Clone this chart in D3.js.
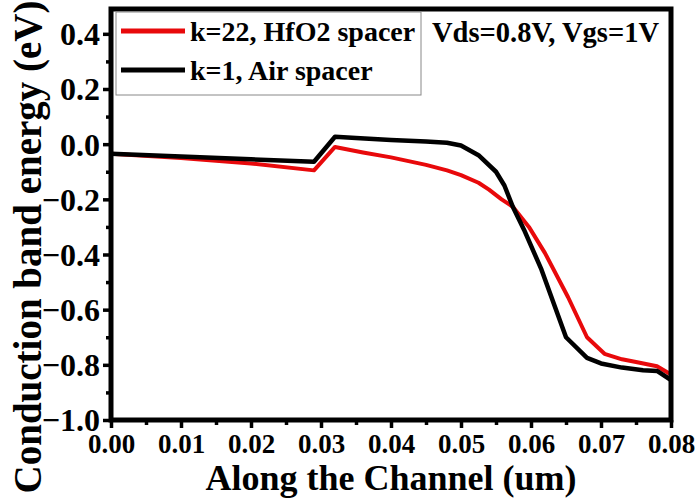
<!DOCTYPE html>
<html>
<head>
<meta charset="utf-8">
<script src="https://cdn.jsdelivr.net/npm/d3@7"></script>
<style>
  html, body { margin: 0; padding: 0; background: #fff; }
</style>
</head>
<body>
<svg id="chart" width="699" height="501" font-family="Liberation Serif" font-weight="bold"></svg>
<script>
// ---- data ----
const xAir = [0.000, 0.010, 0.020, 0.029, 0.032, 0.035, 0.040, 0.045, 0.048, 0.050, 0.0525, 0.055, 0.0562, 0.0574, 0.059, 0.0615, 0.065, 0.068, 0.070, 0.073, 0.076, 0.078, 0.080];
const yAir = [-0.035, -0.045, -0.055, -0.064, 0.027, 0.022, 0.015, 0.010, 0.005, -0.005, -0.040, -0.100, -0.150, -0.227, -0.310, -0.455, -0.700, -0.775, -0.795, -0.810, -0.820, -0.822, -0.855];
const xHfO2 = [0.000, 0.010, 0.020, 0.029, 0.032, 0.036, 0.040, 0.045, 0.048, 0.050, 0.0525, 0.054, 0.0558, 0.0574, 0.0597, 0.062, 0.0653, 0.068, 0.0705, 0.073, 0.075, 0.078, 0.080];
const yHfO2 = [-0.035, -0.050, -0.070, -0.095, -0.010, -0.030, -0.048, -0.075, -0.095, -0.112, -0.140, -0.165, -0.200, -0.227, -0.300, -0.395, -0.555, -0.700, -0.760, -0.780, -0.790, -0.805, -0.835];
const seriesNames = ["k=22, HfO2 spacer", "k=1, Air spacer"];
const seriesColors = ["#e8090b", "#000000"];
const xTicks = [0.00, 0.01, 0.02, 0.03, 0.04, 0.05, 0.06, 0.07, 0.08];
const yTicks = [-1.0, -0.8, -0.6, -0.4, -0.2, 0.0, 0.2, 0.4];
const xLabel = "Along the Channel (um)";
const yLabel = "Conduction band energy (eV)";
const annotation = "Vds=0.8V, Vgs=1V";

// ---- layout ----
const FONT = "Liberation Serif";
const svg = d3.select("#chart");
const L = 111, R = 671, T = 9, B = 420;
const x = d3.scaleLinear().domain([0, 0.08]).range([L, R]);
const y = d3.scaleLinear().domain([-1.0, 0.49]).range([B, T]);

const xMinor = d3.range(1, 16, 2).map(i => i * 0.005);
const yMinor = d3.range(0, 7).map(i => -0.9 + i * 0.2);

// x axis
const gx = svg.append("g").attr("transform", `translate(0,${B})`);
gx.call(d3.axisBottom(x).tickValues(xTicks).tickFormat(d3.format(".2f")).tickSize(8).tickSizeOuter(0).tickPadding(6));
gx.append("g").call(d3.axisBottom(x).tickValues(xMinor).tickFormat("").tickSize(5).tickSizeOuter(0));
gx.selectAll("path.domain").remove();
gx.selectAll("line").attr("stroke", "#000").attr("stroke-width", 3.5);
gx.attr("font-family", FONT).selectAll("g").attr("font-family", FONT);
gx.selectAll("text").attr("font-size", 27).attr("fill", "#000")
  .attr("font-family", FONT).attr("font-weight", "bold");

// y axis
const gy = svg.append("g").attr("transform", `translate(${L},0)`);
gy.call(d3.axisLeft(y).tickValues(yTicks).tickFormat(d3.format(".1f")).tickSize(8).tickSizeOuter(0).tickPadding(3));
gy.append("g").call(d3.axisLeft(y).tickValues(yMinor).tickFormat("").tickSize(5).tickSizeOuter(0));
gy.selectAll("path.domain").remove();
gy.selectAll("line").attr("stroke", "#000").attr("stroke-width", 3.5);
gy.attr("font-family", FONT).selectAll("g").attr("font-family", FONT);
gy.selectAll("text").attr("font-size", 32).attr("fill", "#000").attr("dy", "0.34em")
  .attr("font-family", FONT).attr("font-weight", "bold");

// lines
const line = d3.line().x(d => x(d[0])).y(d => y(d[1]));
const dataHf = xHfO2.map((v, i) => [v, yHfO2[i]]);
const dataAir = xAir.map((v, i) => [v, yAir[i]]);
const plot = svg.append("g");
plot.append("path").datum(dataHf).attr("d", line).attr("fill", "none")
  .attr("stroke", seriesColors[0]).attr("stroke-width", 4).attr("stroke-linejoin", "round");
plot.append("path").datum(dataAir).attr("d", line).attr("fill", "none")
  .attr("stroke", seriesColors[1]).attr("stroke-width", 4.5).attr("stroke-linejoin", "round");

// frame
svg.append("rect").attr("x", L).attr("y", T).attr("width", R - L).attr("height", B - T)
  .attr("fill", "none").attr("stroke", "#000").attr("stroke-width", 5);

// legend
const lg = svg.append("g");
lg.append("rect").attr("x", 116).attr("y", 12).attr("width", 305).attr("height", 83)
  .attr("fill", "#fff").attr("stroke", "#888").attr("stroke-width", 1);
seriesNames.forEach((name, i) => {
  const yy = 31 + i * 39;
  lg.append("line").attr("x1", 121).attr("x2", 185).attr("y1", yy).attr("y2", yy)
    .attr("stroke", seriesColors[i]).attr("stroke-width", 5);
  lg.append("text").attr("x", 190).attr("y", yy + 10).attr("font-size", 28).attr("fill", "#000")
    .attr("font-family", FONT).attr("font-weight", "bold").text(name);
});

// annotation
svg.append("text").attr("x", 432).attr("y", 42).attr("font-size", 28.5).attr("fill", "#000")
  .attr("font-family", FONT).attr("font-weight", "bold").text(annotation);

// axis titles
svg.append("text").attr("x", (L + R) / 2).attr("y", 490).attr("text-anchor", "middle")
  .attr("font-size", 36).attr("fill", "#000").attr("font-family", FONT).attr("font-weight", "bold").text(xLabel);
svg.append("text").attr("transform", `translate(41,247) rotate(-90)`).attr("text-anchor", "middle")
  .attr("font-size", 39).attr("fill", "#000").attr("font-family", FONT).attr("font-weight", "bold").text(yLabel);
</script>
</body>
</html>
